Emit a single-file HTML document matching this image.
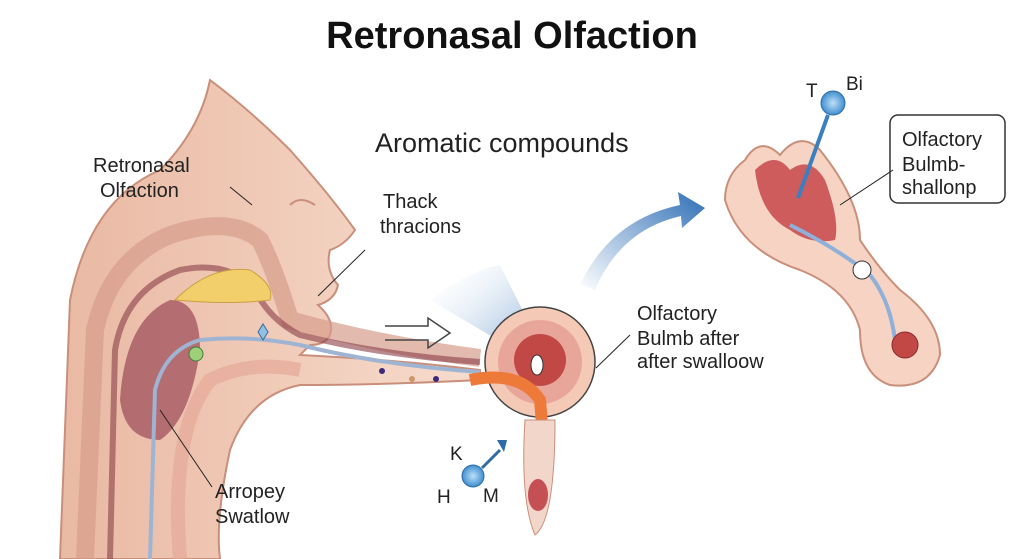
<!DOCTYPE html>
<html><head><meta charset="utf-8"><style>
body{margin:0;background:#fff;}
svg{display:block}
text{font-family:"Liberation Sans",sans-serif;fill:#222}
</style></head><body>
<svg width="1024" height="559" viewBox="0 0 1024 559" xmlns="http://www.w3.org/2000/svg">
<defs>
<linearGradient id="skin" x1="0" y1="0" x2="1" y2="0"><stop offset="0" stop-color="#e9b9a3"/><stop offset="1" stop-color="#f7dccd"/></linearGradient>
<linearGradient id="beam" x1="0" y1="0" x2="1" y2="1"><stop offset="0" stop-color="#fff" stop-opacity="0"/><stop offset="1" stop-color="#4d86c2"/></linearGradient>
<linearGradient id="arc" x1="0" y1="1" x2="1" y2="0"><stop offset="0" stop-color="#fff"/><stop offset="1" stop-color="#2f6fb5"/></linearGradient>
<radialGradient id="ball"><stop offset="0" stop-color="#bfe0f7"/><stop offset="1" stop-color="#3f8fd0"/></radialGradient>
</defs>
<rect width="1024" height="559" fill="#fff"/>
<text x="512" y="48" font-size="38" font-weight="bold" text-anchor="middle" style="fill:#111">Retronasal Olfaction</text>
<!-- head -->
<path d="M60 559 L70 300 Q90 200 160 170 Q200 130 210 80 Q250 110 290 150 Q330 195 355 230 Q345 245 330 250 Q325 270 338 285 Q335 300 318 305 Q335 320 330 335 Q325 345 310 345 L300 355 Q400 360 480 370 L480 380 Q380 385 300 385 Q250 395 230 450 Q215 520 220 559 Z" fill="url(#skin)" stroke="#c98f7a" stroke-width="2"/>
<path d="M85 559 L95 330 Q110 260 170 235 Q230 215 260 240 Q275 270 290 320 Q380 345 480 358" fill="none" stroke="#d79c8c" stroke-width="18" opacity=".7"/>
<path d="M110 559 L115 350 Q125 290 180 270 Q230 260 255 290 Q270 320 300 335 Q380 355 480 362" fill="none" stroke="#8a3e48" stroke-width="6" opacity=".6"/>
<path d="M120 400 Q125 320 170 300 Q200 300 200 350 Q190 420 160 440 Q125 440 120 400Z" fill="#9b4956" opacity=".7"/>
<path d="M175 300 Q210 265 250 270 Q275 285 270 300 Q230 305 175 300Z" fill="#f2cf6a" stroke="#c9a043"/>
<path d="M150 559 L155 390 Q165 350 200 340 Q250 335 300 345 Q380 365 480 372" fill="none" stroke="#9fb4d3" stroke-width="4"/>
<path d="M180 559 Q170 430 210 380 Q250 360 300 370" fill="none" stroke="#e6a898" stroke-width="14" opacity=".7"/>
<circle cx="196" cy="354" r="7" fill="#9ed07a" stroke="#3f7e3a"/>
<path d="M258 332 l5 -8 5 8 -5 8z" fill="#8ec2e4" stroke="#3a6a9a"/>
<circle cx="382" cy="371" r="3" fill="#3a2a7a"/><circle cx="412" cy="379" r="3" fill="#c96" /><circle cx="436" cy="379" r="3" fill="#3a2a7a"/>
<path d="M290 205 Q300 195 315 205" fill="none" stroke="#c98f7a" stroke-width="2"/>
<!-- labels left -->
<text x="93" y="172" font-size="20">Retronasal</text>
<text x="100" y="197" font-size="20">Olfaction</text>
<line x1="230" y1="187" x2="252" y2="205" stroke="#222"/>
<text x="375" y="152" font-size="27">Aromatic compounds</text>
<text x="383" y="208" font-size="20">Thack</text>
<text x="380" y="233" font-size="20">thracions</text>
<line x1="365" y1="250" x2="318" y2="296" stroke="#222"/>
<text x="215" y="498" font-size="20">Arropey</text>
<text x="215" y="523" font-size="20">Swatlow</text>
<line x1="212" y1="487" x2="160" y2="410" stroke="#222"/>
<path d="M385 326 H428 V318 L450 333 L428 348 V340 H385" fill="none" stroke="#444" stroke-width="1.5"/>
<path d="M430 300 Q470 270 500 265 L545 355 L535 362Z" fill="url(#beam)" opacity=".8"/>
<circle cx="540" cy="362" r="55" fill="#f4c9b5" stroke="#444" stroke-width="1.5"/>
<circle cx="540" cy="362" r="42" fill="#e8a69a"/>
<circle cx="540" cy="360" r="26" fill="#c24846"/>
<path d="M470 380 Q520 370 540 400 Q545 450 540 510" fill="none" stroke="#ee7a3a" stroke-width="12"/>
<path d="M525 420 Q520 500 535 535 Q555 520 555 420Z" fill="#f2d6c9" stroke="#c98f7a"/>
<ellipse cx="538" cy="495" rx="10" ry="16" fill="#c45055"/>
<ellipse cx="537" cy="365" rx="6" ry="10" fill="#fff" stroke="#333"/>
<text x="637" y="320" font-size="20">Olfactory</text>
<text x="637" y="345" font-size="20">Bulmb after</text>
<text x="637" y="368" font-size="20">after swalloow</text>
<line x1="630" y1="335" x2="596" y2="368" stroke="#222"/>
<circle cx="473" cy="476" r="11" fill="url(#ball)" stroke="#2d6ca5"/>
<line x1="482" y1="468" x2="500" y2="450" stroke="#2d6ca5" stroke-width="3"/><path d="M497 440 l10 0 -3 12z" fill="#2d6ca5"/>
<text x="450" y="460" font-size="19">K</text><text x="437" y="503" font-size="19">H</text><text x="483" y="502" font-size="19">M</text>
<path d="M580 285 Q610 220 680 205 L678 192 L705 208 L682 228 L681 216 Q620 230 595 290Z" fill="url(#arc)"/>
<path d="M745 160 Q760 135 780 155 Q800 130 820 150 Q860 200 860 240 Q880 270 900 290 Q940 320 940 355 Q930 390 890 385 Q860 375 860 330 Q850 290 800 270 Q740 250 725 200 Q725 175 745 160Z" fill="#f6d3c2" stroke="#c98f7a" stroke-width="2"/>
<path d="M755 170 Q775 150 790 170 Q810 155 825 180 Q840 220 835 240 Q810 245 790 230 Q760 215 755 170Z" fill="#c7474b" opacity=".85"/>
<path d="M790 225 Q840 250 870 275 Q890 300 895 340" fill="none" stroke="#8fb0d8" stroke-width="4"/>
<circle cx="905" cy="345" r="13" fill="#c24846" stroke="#8a2a2a"/>
<circle cx="862" cy="270" r="9" fill="#fff" stroke="#333"/>
<line x1="798" y1="198" x2="828" y2="115" stroke="#3a7fc0" stroke-width="4"/>
<circle cx="833" cy="103" r="12" fill="url(#ball)" stroke="#2d6ca5"/>
<text x="806" y="97" font-size="19">T</text><text x="846" y="90" font-size="19">Bi</text>
<rect x="890" y="115" width="115" height="88" rx="8" fill="#fff" stroke="#333" stroke-width="1.5"/>
<text x="902" y="146" font-size="20">Olfactory</text>
<text x="902" y="171" font-size="20">Bulmb-</text>
<text x="902" y="194" font-size="20">shallonp</text>
<line x1="893" y1="170" x2="840" y2="205" stroke="#222"/>
</svg>
</body></html>
